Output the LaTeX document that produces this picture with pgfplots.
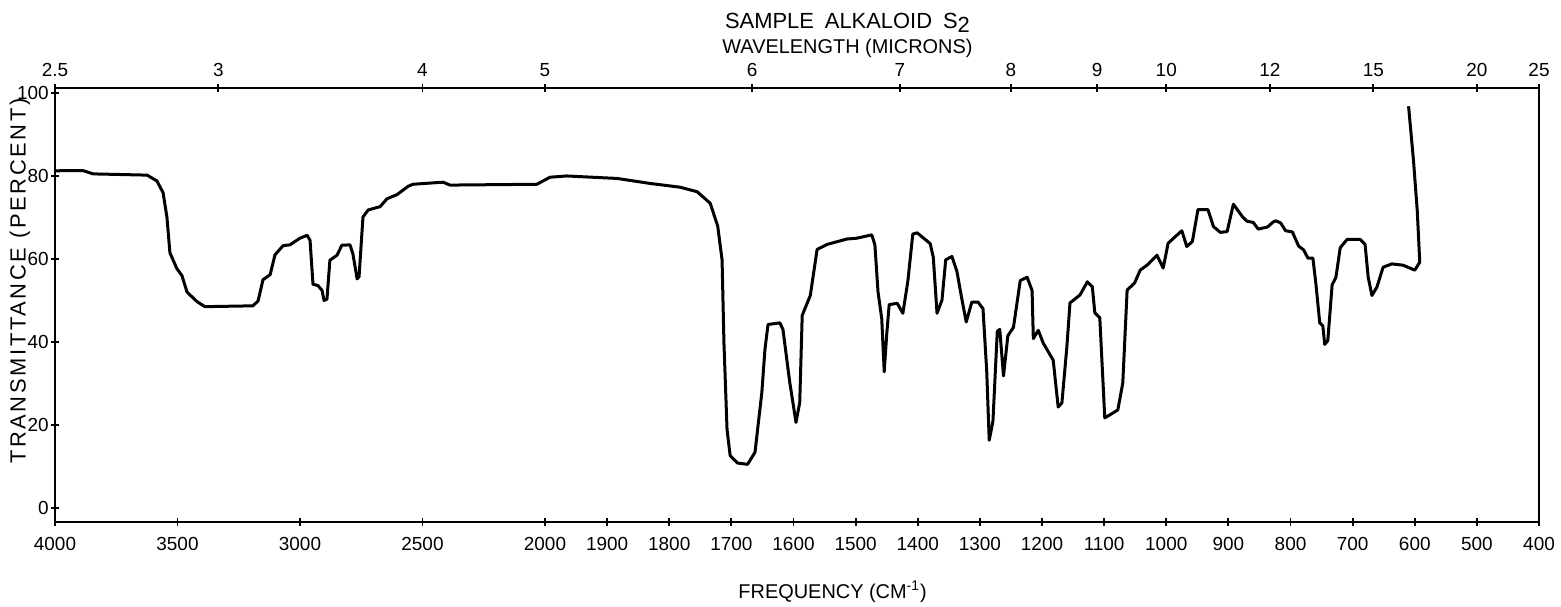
\documentclass[border=0pt]{standalone}
\usepackage{fontspec}
\setmainfont{Liberation Sans}
\usepackage{pgfplots}
\pgfplotsset{compat=1.18}

% IR chart: 4000-2000 cm-1 at one scale, 2000-400 at a wider one
\pgfplotsset{
  irscale/.style={
    x coord trafo/.code={\pgfmathparse{(4000-##1)*0.245+max(0,2000-##1)*0.37625}},
    xmin=4000, xmax=400,
    width=742bp, height=217bp, scale only axis,
    at={(0,0)}, anchor=south west,
    tick align=center, major tick length=4bp,
    tick style={line width=0.9bp, black},
    tick label style={font=\fontsize{9.5}{11}\selectfont},
    /pgf/number format/assume math mode=true,
  },
}

\begin{document}
\begin{tikzpicture}
\useasboundingbox (-27.5bp,-42.5bp) rectangle (753bp,261bp);

\begin{axis}[
    irscale,
    ymin=-3.4, ymax=101.2,
    axis line style={line width=1.2bp},
    xtick pos=bottom, ytick pos=left,
    xtick={4000,3500,3000,2500,2000,1900,1800,1700,1600,1500,1400,1300,1200,1100,1000,900,800,700,600,500,400},
    xticklabels={4000,3500,3000,2500,2000,1900,1800,1700,1600,1500,1400,1300,1200,1100,1000,900,800,700,600,500,400},
    xticklabel style={yshift=-2bp},
    ytick={0,20,40,60,80,100},
    yticklabels={0,20,40,60,80,100},
    yticklabel style={inner sep=1bp},
    xlabel={FREQUENCY (CM\textsuperscript{-1})},
    xlabel style={font=\fontsize{10}{12}\selectfont, at={(axis description cs:0.524,-0.161)}, anchor=center},
    ylabel={TRANSMITTANCE (PERCENT)},
    ylabel style={font=\fontsize{11}{13}\selectfont\addfontfeature{LetterSpace=12}, at={(axis description cs:-0.0236,0.555)}, anchor=center, rotate=0},
]
\addplot[black, line width=1.5bp, line join=round, no marks] coordinates {
(4000,81.2)(3966,81.3)(3886,81.3)(3845,80.5)(3624,80.2)(3584,78.8)(3559,76.0)(3543,70.0)(3531,61.5)
(3502,57.6)(3482,56.0)(3461,52.0)(3420,49.7)(3388,48.5)(3192,48.7)(3171,49.9)(3151,55.0)
(3122,56.2)(3102,61.0)(3069,63.2)(3041,63.4)(3000,65.0)(2971,65.7)(2959,64.5)(2947,53.9)
(2927,53.6)(2910,52.4)(2902,50.0)(2890,50.3)(2878,59.7)(2849,60.9)(2829,63.3)(2796,63.4)
(2784,61.2)(2767,55.2)(2759,55.7)(2743,70.1)(2722,71.8)(2673,72.6)(2645,74.5)(2604,75.5)
(2559,77.5)(2539,78.0)(2416,78.5)(2388,77.8)(2033,78.0)(1992,79.7)(1965,80.0)(1884,79.4)
(1831,78.2)(1783,77.3)(1755,76.2)(1734,73.4)(1722,67.9)(1715,59.8)(1712,39.8)(1707,18.9)
(1702,12.6)(1690,10.8)(1674,10.5)(1662,13.4)(1651,27.8)(1646,38.2)(1641,44.2)(1622,44.6)
(1617,43.0)(1606,30.2)(1596,20.6)(1590,25.4)(1586,46.4)(1573,51.2)(1562,62.3)(1546,63.5)
(1514,64.8)(1498,65.0)(1474,65.8)(1469,63.4)(1464,52.1)(1458,45.6)(1454,32.8)(1450,41.8)
(1446,49.0)(1433,49.3)(1424,46.9)(1416,54.6)(1408,66.0)(1401,66.3)(1380,63.7)(1375,60.4)
(1369,46.9)(1361,50.1)(1355,59.8)(1345,60.6)(1337,57.0)(1329,50.3)(1322,44.8)(1313,49.6)
(1303,49.6)(1295,48.0)(1289,32.9)(1285,16.3)(1279,20.9)(1272,42.6)(1268,43.0)(1262,31.8)
(1255,41.5)(1246,43.5)(1235,54.8)(1224,55.6)(1216,52.4)(1214,40.8)(1206,42.8)(1198,39.7)
(1182,35.6)(1174,24.3)(1168,25.3)(1160,38.8)(1155,49.4)(1139,51.3)(1127,54.5)(1119,53.3)
(1115,47.0)(1107,45.8)(1099,21.7)(1091,22.4)(1078,23.6)(1070,30.1)(1063,52.5)(1051,54.2)
(1042,57.3)(1031,58.5)(1015,60.9)(1005,57.8)(997,63.8)(986,65.3)(975,66.8)(967,63.0)
(958,64.2)(949,71.9)(933,71.9)(924,67.8)(913,66.4)(902,66.6)(892,73.2)(878,70.3)
(870,69.1)(860,68.8)(852,67.2)(837,67.7)(828,68.9)(824,69.2)(816,68.7)(808,66.8)
(797,66.5)(787,63.1)(779,62.2)(772,60.2)(764,60.2)(759,53.8)(753,44.6)(748,43.9)
(745,39.4)(740,40.3)(733,53.8)(727,55.5)(720,62.7)(709,64.7)(688,64.7)(680,63.5)
(675,55.6)(669,51.2)(661,53.2)(651,58.0)(637,58.8)(619,58.5)(600,57.3)(592,59.2)
(596,71.6)(602,83.6)(610,96.8)
};
\end{axis}

% wavelength scale on top
\begin{axis}[
    irscale,
    ymin=0, ymax=1,
    hide y axis,
    axis x line*=top,
    axis line style={line width=1.2bp, -},
    xtick={4000,3333.33,2500,2000,1666.67,1428.57,1250,1111.11,1000,833.33,666.67,500,400},
    xticklabels={2.5,3,4,5,6,7,8,9,10,12,15,20,25},
    xlabel={WAVELENGTH (MICRONS)},
    xlabel style={font=\fontsize{10}{12}\selectfont, at={(axis description cs:0.534,1.092)}, anchor=center},
    title={SAMPLE\enspace ALKALOID\enspace S\raisebox{-0.4ex}{2}},
    title style={font=\fontsize{11}{13}\selectfont, at={(axis description cs:0.534,1.15)}, anchor=center, yshift=-6pt},
]
\end{axis}
\end{tikzpicture}
\end{document}
